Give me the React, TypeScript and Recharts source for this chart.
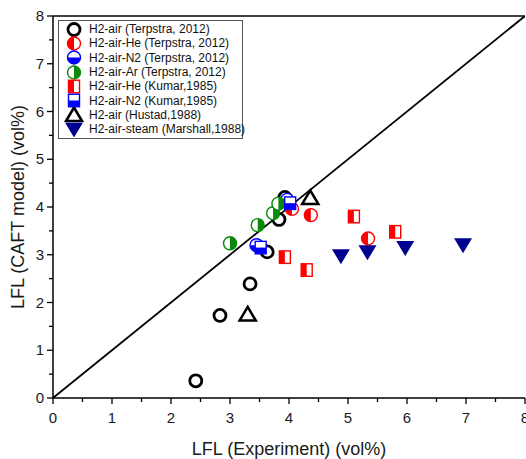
import React from 'react';
import { ScatterChart, Scatter, XAxis, YAxis, ReferenceLine } from 'recharts';

const FONT = '"Liberation Sans", Arial, sans-serif';

// axis ticks (0.5 steps, labels only on whole numbers)
const axisTicks = [0, 0.5, 1, 1.5, 2, 2.5, 3, 3.5, 4, 4.5, 5, 5.5, 6, 6.5, 7, 7.5, 8];

// series values
const h2AirTerpstra = [
  { x: 2.42, y: 0.36 },
  { x: 2.83, y: 1.73 },
  { x: 3.34, y: 2.39 },
  { x: 3.63, y: 3.06 },
  { x: 3.83, y: 3.74 },
  { x: 3.93, y: 4.2 },
];
const h2AirHeTerpstra = [
  { x: 4.05, y: 3.96 },
  { x: 4.37, y: 3.83 },
  { x: 5.34, y: 3.34 },
];
const h2AirN2Terpstra = [
  { x: 3.45, y: 3.2 },
  { x: 3.97, y: 4.15 },
];
const h2AirArTerpstra = [
  { x: 3.0, y: 3.24 },
  { x: 3.47, y: 3.62 },
  { x: 3.73, y: 3.87 },
  { x: 3.82, y: 4.07 },
];
const h2AirHeKumar = [
  { x: 3.93, y: 2.95 },
  { x: 4.3, y: 2.68 },
  { x: 5.1, y: 3.8 },
  { x: 5.8, y: 3.48 },
];
const h2AirN2Kumar = [
  { x: 3.52, y: 3.15 },
  { x: 4.02, y: 4.08 },
];
const h2AirHustad = [
  { x: 3.3, y: 1.76 },
  { x: 4.36, y: 4.2 },
];
const h2AirSteamMarshall = [
  { x: 4.88, y: 2.97 },
  { x: 5.33, y: 3.05 },
  { x: 5.97, y: 3.14 },
  { x: 6.95, y: 3.2 },
];
const diagonal = [
  { x: 0, y: 0 },
  { x: 8, y: 8 },
];

type Kind = 'circle' | 'halfLeft' | 'halfRight' | 'halfBottom' | 'sqLeft' | 'sqBottom' | 'triUp' | 'triDown';

const RED = '#ff0000';
const BLUE = '#0000ff';
const GREEN = '#0a8a0a';
const NAVY = '#00008f';

const series: { name: string; data: { x: number; y: number }[]; kind: Kind; color: string }[] = [
  { name: 'H2-air (Terpstra, 2012)', data: h2AirTerpstra, kind: 'circle', color: '#000' },
  { name: 'H2-air-He (Terpstra, 2012)', data: h2AirHeTerpstra, kind: 'halfLeft', color: RED },
  { name: 'H2-air-N2 (Terpstra, 2012)', data: h2AirN2Terpstra, kind: 'halfBottom', color: BLUE },
  { name: 'H2-air-Ar (Terpstra, 2012)', data: h2AirArTerpstra, kind: 'halfRight', color: GREEN },
  { name: 'H2-air-He (Kumar,1985)', data: h2AirHeKumar, kind: 'sqLeft', color: RED },
  { name: 'H2-air-N2 (Kumar,1985)', data: h2AirN2Kumar, kind: 'sqBottom', color: BLUE },
  { name: 'H2-air (Hustad,1988)', data: h2AirHustad, kind: 'triUp', color: '#000' },
  { name: 'H2-air-steam (Marshall,1988)', data: h2AirSteamMarshall, kind: 'triDown', color: NAVY },
];

function Marker({ kind, cx, cy, color }: { kind: Kind; cx: number; cy: number; color: string }) {
  const r = 6.5;
  if (kind === 'circle') {
    return <circle cx={cx} cy={cy} r={6} fill="#fff" stroke="#000" strokeWidth={2.8} />;
  }
  if (kind === 'halfLeft' || kind === 'halfRight' || kind === 'halfBottom') {
    const d =
      kind === 'halfBottom'
        ? `M${cx - r},${cy} A${r},${r} 0 0 0 ${cx + r},${cy} Z`
        : `M${cx},${cy - r} A${r},${r} 0 0 ${kind === 'halfLeft' ? 0 : 1} ${cx},${cy + r} Z`;
    return (
      <g>
        <circle cx={cx} cy={cy} r={r} fill="#fff" />
        <path d={d} fill={color} />
        <circle cx={cx} cy={cy} r={r} fill="none" stroke={color} strokeWidth={1.4} />
      </g>
    );
  }
  if (kind === 'sqLeft' || kind === 'sqBottom') {
    const w = 11;
    const h = 12.5;
    return (
      <g>
        <rect x={cx - w / 2} y={cy - h / 2} width={w} height={h} fill="#fff" />
        {kind === 'sqLeft' ? (
          <rect x={cx - w / 2} y={cy - h / 2} width={w / 2} height={h} fill={color} />
        ) : (
          <rect x={cx - w / 2} y={cy} width={w} height={h / 2} fill={color} />
        )}
        <rect x={cx - w / 2} y={cy - h / 2} width={w} height={h} fill="none" stroke={color} strokeWidth={1.4} />
      </g>
    );
  }
  if (kind === 'triUp') {
    return (
      <polygon
        points={`${cx},${cy - 7} ${cx + 8},${cy + 6.5} ${cx - 8},${cy + 6.5}`}
        fill="#fff"
        stroke="#000"
        strokeWidth={2.6}
        strokeLinejoin="miter"
      />
    );
  }
  return <polygon points={`${cx - 9},${cy - 7} ${cx + 9},${cy - 7} ${cx},${cy + 8}`} fill={color} />;
}

const XTick = ({ x, y, payload }: any) => {
  const major = Number.isInteger(payload.value);
  return (
    <g>
      <line x1={x} y1={y} x2={x} y2={y + (major ? 6 : 4)} stroke="#000" strokeWidth={1.3} />
      {major && (
        <text x={x} y={y + 25} textAnchor="middle" fontSize={15} fontFamily={FONT} fill="#1a1a1a">
          {payload.value}
        </text>
      )}
    </g>
  );
};

const YTick = ({ x, y, payload }: any) => {
  const major = Number.isInteger(payload.value);
  return (
    <g>
      <line x1={x} y1={y} x2={x - (major ? 6 : 4)} y2={y} stroke="#000" strokeWidth={1.3} />
      {major && (
        <text x={x - 9} y={y + 5} textAnchor="end" fontSize={15} fontFamily={FONT} fill="#1a1a1a">
          {payload.value}
        </text>
      )}
    </g>
  );
};

function LegendBox() {
  return (
    <div
      style={{
        position: 'absolute',
        left: 58,
        top: 20,
        width: 183,
        border: '1px solid #555',
        background: '#fff',
        padding: '1px 0 2px 0',
        fontFamily: FONT,
        fontSize: 12,
        color: '#111',
      }}
    >
      {series.map((s) => (
        <div key={s.name} style={{ display: 'flex', alignItems: 'center', height: 14.3 }}>
          <svg width={30} height={15} style={{ flex: 'none' }}>
            <Marker kind={s.kind} cx={15} cy={7.5} color={s.color} />
          </svg>
          <span style={{ whiteSpace: 'nowrap' }}>{s.name}</span>
        </div>
      ))}
    </div>
  );
}

export default function App() {
  return (
    <div style={{ position: 'absolute', left: 0, top: 0, width: 526, height: 459, background: '#fff' }}>
      <ScatterChart width={526} height={459} margin={{ top: 16, right: 1, left: 0, bottom: 0 }}>
        <XAxis
          type="number"
          dataKey="x"
          domain={[0, 8]}
          ticks={axisTicks}
          interval={0}
          allowDataOverflow
          height={61}
          stroke="#000"
          strokeWidth={1.5}
          tickLine={false}
          tickSize={0}
          tickMargin={0}
          tick={<XTick />}
          label={{
            value: 'LFL (Experiment) (vol%)',
            position: 'insideBottom',
            offset: 4,
            fontSize: 18,
            fontFamily: FONT,
            fill: '#1a1a1a',
          }}
        />
        <YAxis
          type="number"
          dataKey="y"
          domain={[0, 8]}
          ticks={axisTicks}
          interval={0}
          allowDataOverflow
          width={53}
          stroke="#000"
          strokeWidth={1.5}
          tickLine={false}
          tickSize={0}
          tickMargin={0}
          tick={<YTick />}
          label={{
            value: 'LFL (CAFT model) (vol%)',
            angle: -90,
            position: 'insideLeft',
            offset: 18,
            fontSize: 18,
            fontFamily: FONT,
            fill: '#1a1a1a',
            style: { textAnchor: 'middle' },
          }}
        />
        <ReferenceLine y={8} stroke="#000" strokeWidth={1.5} />
        <Scatter
          data={diagonal}
          line={{ stroke: '#000', strokeWidth: 1.8 }}
          shape={() => <g />}
          isAnimationActive={false}
          legendType="none"
        />
        {series.map((s) => (
          <Scatter
            key={s.name}
            name={s.name}
            data={s.data}
            isAnimationActive={false}
            shape={(p: any) => <Marker kind={s.kind} cx={p.cx} cy={p.cy} color={s.color} />}
          />
        ))}
      </ScatterChart>
      <LegendBox />
    </div>
  );
}
